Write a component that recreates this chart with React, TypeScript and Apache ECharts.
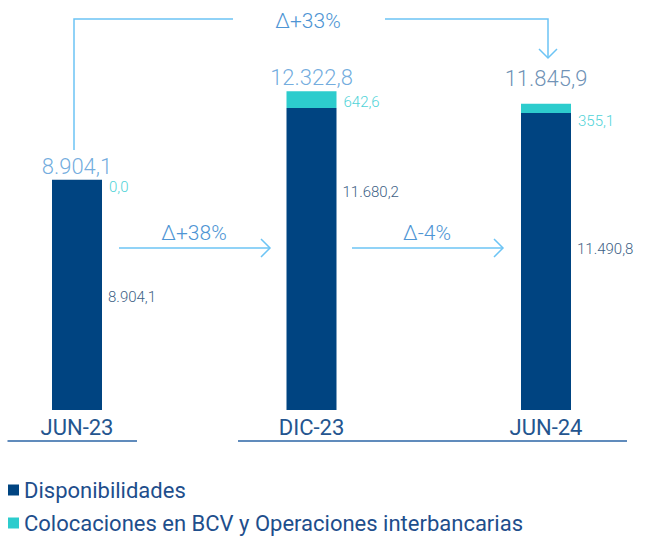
import React, { useEffect, useRef } from "react";
import * as echarts from "echarts";

const categories = ["JUN-23", "DIC-23", "JUN-24"];
const disponibilidades = [8904.1, 11680.2, 11490.8];
const colocaciones = [0.0, 642.6, 355.1];
const seriesNames = ["Disponibilidades", "Colocaciones en BCV y Operaciones interbancarias"];
const deltaLabels = ["Δ+38%", "Δ-4%", "Δ+33%"];

const darkLabelOffsets = [2, -67, -12];
const tealLabelOffsets = [7, 2, 13];
const totalLabelOffsets = [2, 2, -10];
const totalLabelColors = ["#4F97D6", "#4F97D6", "#4A76A3"];

const NAVY = "#004481";
const AQUA = "#2DCCCD";
const ARROW = "#6CC4F5";
const DELTA_TEXT = "#4E95D4";
const FONT = "Roboto, 'Noto Sans', sans-serif";

function fmt(v: number): string {
  const [i, d] = v.toFixed(1).split(".");
  return i.replace(/\B(?=(\d{3})+(?!\d))/g, ".") + "," + d;
}

export default function App() {
  const ref = useRef<HTMLDivElement>(null);
  useEffect(() => {
    if (!ref.current) return;
    const chart = echarts.init(ref.current, undefined, { renderer: "svg" });
    const totals = disponibilidades.map((v, i) => Math.round((v + colocaciones[i]) * 10) / 10);
    const lineStyle = { stroke: ARROW, lineWidth: 1.5, fill: "none" };
    chart.setOption({
      animation: false,
      grid: { left: 77, width: 469, top: 48, bottom: 135 },
      legend: {
        orient: "vertical",
        left: 3,
        top: 474,
        icon: "rect",
        itemWidth: 11,
        itemHeight: 11,
        itemGap: 11,
        itemTextGap: 5,
        data: seriesNames,
        textStyle: { fontFamily: FONT, fontSize: 22, color: "#1E4E8C", lineHeight: 22 },
      },
      xAxis: {
        type: "category",
        data: categories,
        boundaryGap: false,
        axisLine: { show: false },
        axisTick: { show: false },
        axisLabel: { fontFamily: FONT, fontSize: 22, color: "#24558F", margin: 6 },
      },
      yAxis: { type: "value", min: 0, max: 14000, show: false },
      series: [
        {
          name: seriesNames[0],
          type: "bar",
          stack: "total",
          barWidth: 50,
          itemStyle: { color: NAVY },
          data: disponibilidades.map((v, i) => ({ value: v, label: { offset: [0, darkLabelOffsets[i]] } })),
          label: {
            show: true,
            position: "right",
            distance: 6,
            fontFamily: FONT,
            fontWeight: 300,
            fontSize: 15,
            color: "#3E5F86",
            formatter: (p: any) => fmt(p.value),
          },
        },
        {
          name: seriesNames[1],
          type: "bar",
          stack: "total",
          barWidth: 50,
          itemStyle: { color: AQUA },
          data: colocaciones.map((v, i) => ({ value: v, label: { offset: [0, tealLabelOffsets[i]] } })),
          label: {
            show: true,
            position: "right",
            distance: 7,
            fontFamily: FONT,
            fontWeight: 300,
            fontSize: 15,
            color: "#4FD3D8",
            formatter: (p: any) => fmt(p.value),
          },
        },
        {
          name: "Total",
          type: "scatter",
          symbolSize: 1,
          silent: true,
          itemStyle: { color: "rgba(0,0,0,0)" },
          data: totals.map((v, i) => ({
            value: v,
            label: { offset: [0, totalLabelOffsets[i]], color: totalLabelColors[i] },
          })),
          label: {
            show: true,
            position: "top",
            distance: 4,
            fontFamily: FONT,
            fontWeight: 300,
            fontSize: 22,
            formatter: (p: any) => fmt(p.value),
          },
        },
      ],
      graphic: [
        { type: "line", shape: { x1: 7.5, y1: 441, x2: 137, y2: 441 }, style: { stroke: "#2B64A6", lineWidth: 1.5 } },
        { type: "line", shape: { x1: 238, y1: 441, x2: 627, y2: 441 }, style: { stroke: "#2B64A6", lineWidth: 1.5 } },
        { type: "polyline", shape: { points: [[74, 150], [74, 19], [233, 19]] }, style: lineStyle },
        { type: "polyline", shape: { points: [[385, 19], [548, 19], [548, 58]] }, style: lineStyle },
        { type: "polyline", shape: { points: [[539, 49], [548, 58], [557, 49]] }, style: lineStyle },
        { type: "line", shape: { x1: 119, y1: 248, x2: 270, y2: 248 }, style: lineStyle },
        { type: "polyline", shape: { points: [[261, 239], [270, 248], [261, 257]] }, style: lineStyle },
        { type: "line", shape: { x1: 352, y1: 248, x2: 503, y2: 248 }, style: lineStyle },
        { type: "polyline", shape: { points: [[494, 239], [503, 248], [494, 257]] }, style: lineStyle },
        {
          type: "text",
          x: 194,
          y: 233,
          style: { text: deltaLabels[0], fontFamily: FONT, fontWeight: 300, fontSize: 21, fill: DELTA_TEXT, align: "center", verticalAlign: "middle" },
        },
        {
          type: "text",
          x: 427,
          y: 233,
          style: { text: deltaLabels[1], fontFamily: FONT, fontWeight: 300, fontSize: 21, fill: DELTA_TEXT, align: "center", verticalAlign: "middle" },
        },
        {
          type: "text",
          x: 308,
          y: 21,
          style: { text: deltaLabels[2], fontFamily: FONT, fontWeight: 300, fontSize: 21, fill: DELTA_TEXT, align: "center", verticalAlign: "middle" },
        },
      ],
    });
    return () => chart.dispose();
  }, []);
  return <div ref={ref} style={{ position: "absolute", left: 0, top: 0, width: 646, height: 545 }} />;
}
